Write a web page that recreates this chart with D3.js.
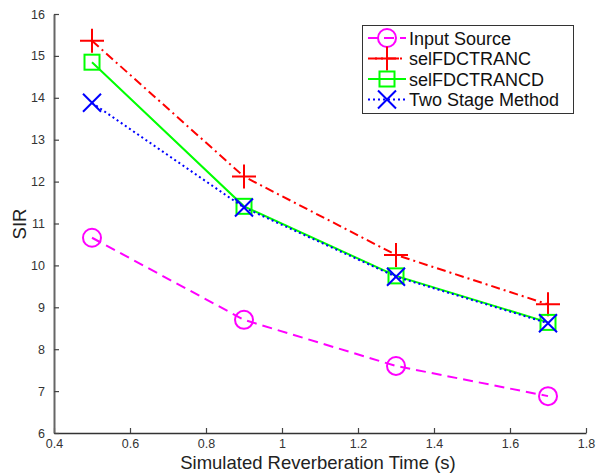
<!DOCTYPE html>
<html><head><meta charset="utf-8">
<script src="https://cdn.jsdelivr.net/npm/d3@7"></script>
<style>body{margin:0;background:#fff}svg{display:block}</style>
</head><body>
<script>
const xValues = [0.5, 0.9, 1.3, 1.7];
const seriesNames = ["Input Source", "selFDCTRANC", "selFDCTRANCD", "Two Stage Method"];
const inputSource = [10.66, 8.70, 7.60, 6.88];
const selFDCTRANC = [15.36, 12.12, 10.25, 9.07];
const selFDCTRANCD = [14.85, 11.41, 9.75, 8.64];
const twoStage = [13.88, 11.38, 9.73, 8.62];
const xTicks = [0.4, 0.6, 0.8, 1, 1.2, 1.4, 1.6, 1.8];
const yTicks = [6, 7, 8, 9, 10, 11, 12, 13, 14, 15, 16];

const W = 600, H = 473;
const svg = d3.select("body").append("svg").attr("width", W).attr("height", H);
const x = d3.scaleLinear().domain([0.4, 1.8]).range([54, 586]);
const y = d3.scaleLinear().domain([6, 16]).range([433, 14]);
const FONT = "Liberation Sans, Arial, sans-serif";

const series = [
  {name: seriesNames[0], values: inputSource, color: "#ff00ff", dash: "10,6", marker: "circle"},
  {name: seriesNames[1], values: selFDCTRANC, color: "#ff0000", dash: "9,4,2,4", marker: "plus"},
  {name: seriesNames[2], values: selFDCTRANCD, color: "#00ff00", dash: null, marker: "square"},
  {name: seriesNames[3], values: twoStage, color: "#0000ff", dash: "2,3", marker: "cross"}
];

// axes
const xAxis = d3.axisBottom(x).tickValues(xTicks).tickSizeInner(-5).tickSizeOuter(0).tickPadding(9)
  .tickFormat(d => d3.format("~g")(d));
const yAxis = d3.axisLeft(y).tickValues(yTicks).tickSizeInner(-5).tickSizeOuter(0).tickPadding(9);
const gx = svg.append("g").attr("transform", `translate(0,433)`).call(xAxis);
const gy = svg.append("g").attr("transform", `translate(54,0)`).call(yAxis);
gx.select(".domain").attr("stroke", "#333").attr("stroke-width", 1.5);
gy.select(".domain").attr("stroke", "#666").attr("stroke-width", 2);
[gx, gy].forEach(g => {
  g.selectAll(".tick line").attr("stroke", "#444").attr("stroke-width", 1.2);
  g.selectAll(".tick text").attr("fill", "#333").style("font-family", FONT).style("font-size", "12.5px");
});
gx.selectAll(".tick text").attr("dy", "0.5em");

svg.append("text").attr("x", 318).attr("y", 469).attr("text-anchor", "middle")
  .style("font-family", FONT).style("font-size", "18.5px").attr("fill", "#222")
  .text("Simulated Reverberation Time (s)");
svg.append("text").attr("transform", "translate(26,224) rotate(-90)").attr("text-anchor", "middle")
  .style("font-family", FONT).style("font-size", "18.5px").attr("fill", "#222")
  .text("SIR");

function drawMarker(g, type, cx, cy, color) {
  const s = 2;
  if (type === "circle") {
    g.append("circle").attr("cx", cx).attr("cy", cy).attr("r", 9).attr("fill", "none").attr("stroke", color).attr("stroke-width", s);
  } else if (type === "plus") {
    g.append("path").attr("d", `M${cx-12},${cy}H${cx+12}M${cx},${cy-12}V${cy+12}`).attr("stroke", color).attr("stroke-width", s).attr("fill", "none");
  } else if (type === "square") {
    g.append("rect").attr("x", cx-7.5).attr("y", cy-7.5).attr("width", 15).attr("height", 15).attr("fill", "none").attr("stroke", color).attr("stroke-width", s);
  } else if (type === "cross") {
    g.append("path").attr("d", `M${cx-9},${cy-9}L${cx+9},${cy+9}M${cx-9},${cy+9}L${cx+9},${cy-9}`).attr("stroke", color).attr("stroke-width", s).attr("fill", "none");
  }
}

const line = d3.line().x(d => x(d[0])).y(d => y(d[1]));
series.forEach(s => {
  const g = svg.append("g");
  const pts = xValues.map((xv, i) => [xv, s.values[i]]);
  g.append("path").attr("d", line(pts)).attr("fill", "none").attr("stroke", s.color).attr("stroke-width", 2)
    .attr("stroke-dasharray", s.dash);
  pts.forEach(p => drawMarker(g, s.marker, x(p[0]), y(p[1]), s.color));
});

// legend
const lg = svg.append("g");
lg.append("rect").attr("x", 362.5).attr("y", 25.5).attr("width", 211).attr("height", 88)
  .attr("fill", "#fff").attr("stroke", "#333").attr("stroke-width", 1);
series.forEach((s, i) => {
  const yy = 38 + i * 20.5;
  lg.append("line").attr("x1", 368).attr("x2", 406).attr("y1", yy).attr("y2", yy)
    .attr("stroke", s.color).attr("stroke-width", 2).attr("stroke-dasharray", s.dash);
  drawMarker(lg, s.marker, 387, yy, s.color);
  lg.append("text").attr("x", 409).attr("y", yy + 6.5).attr("fill", "#111")
    .style("font-family", FONT).style("font-size", "18px").text(s.name);
});
</script>
</body></html>
